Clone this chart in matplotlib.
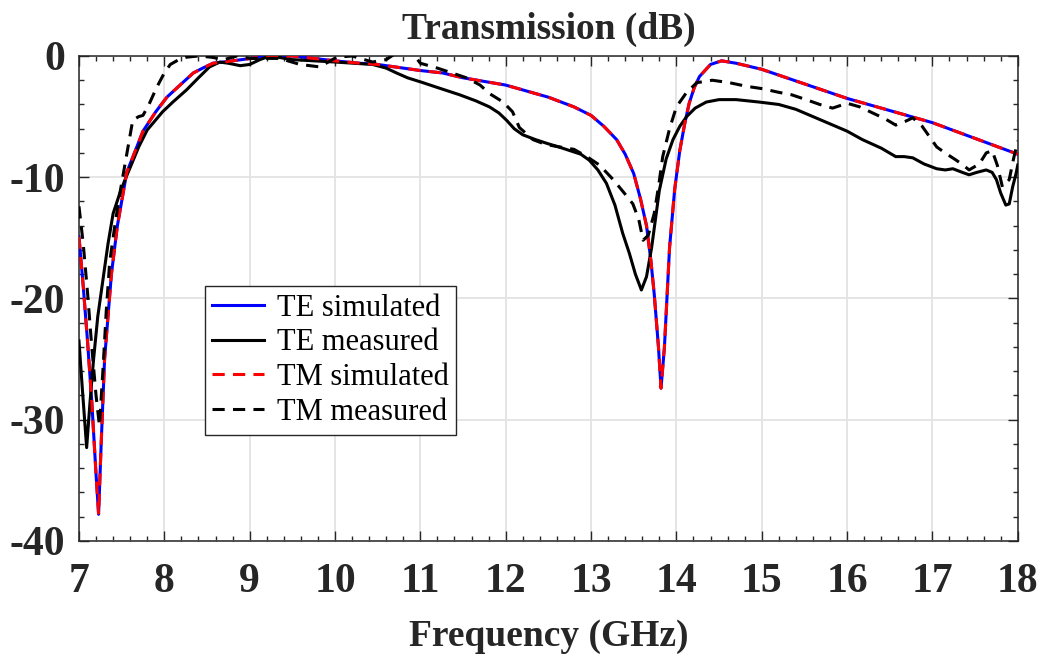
import matplotlib
matplotlib.use("Agg")
import matplotlib.pyplot as plt
from matplotlib.ticker import MultipleLocator

plt.rcParams['font.family'] = ['Liberation Serif', 'DejaVu Serif']
plt.rcParams['axes.unicode_minus'] = False

# Simulated transmission (identical for TE and TM)
f_sim = [7.0, 7.05, 7.1, 7.15, 7.2, 7.23, 7.26, 7.3, 7.38, 7.45, 7.56, 7.65, 7.75, 7.9,
         8.03, 8.2, 8.34, 8.45, 8.57, 8.8, 9.12, 9.5, 10.0, 10.29, 10.5, 11.0, 11.26,
         11.5, 12.0, 12.5, 12.8, 13.0, 13.15, 13.3, 13.4, 13.5, 13.58, 13.65, 13.7,
         13.74, 13.79, 13.82, 13.86, 13.92, 13.98, 14.04, 14.1, 14.15, 14.21, 14.27,
         14.4, 14.53, 14.7, 15.0, 15.5, 16.0, 16.5, 17.0, 17.5, 18.0]
te_sim = [-14.9, -19.0, -23.5, -28.5, -34.5, -37.8, -32.0, -25.0, -18.0, -14.0, -9.6,
          -8.0, -6.2, -4.6, -3.4, -2.3, -1.4, -1.0, -0.6, -0.4, -0.1, 0.0, -0.4, -0.6,
          -0.7, -1.2, -1.4, -1.8, -2.4, -3.4, -4.2, -4.9, -5.8, -6.9, -8.1, -9.7,
          -11.8, -14.0, -16.8, -19.6, -24.0, -27.4, -24.0, -15.8, -11.0, -7.8, -5.5,
          -3.9, -2.6, -1.7, -0.7, -0.4, -0.6, -1.1, -2.3, -3.5, -4.5, -5.5, -6.8, -8.1]
tm_sim = list(te_sim)

# Measured TE transmission
f_te_meas = [7.0, 7.04, 7.09, 7.13, 7.17, 7.22, 7.28, 7.34, 7.4, 7.47, 7.54, 7.6, 7.7,
             7.8, 7.98, 8.1, 8.26, 8.4, 8.53, 8.65, 8.75, 8.89, 9.0, 9.12, 9.24, 9.5,
             10.0, 10.44, 10.6, 10.72, 10.85, 11.03, 11.2, 11.46, 11.65, 11.81, 11.92,
             12.01, 12.1, 12.2, 12.35, 12.48, 12.62, 12.75, 12.88, 12.98, 13.08, 13.18,
             13.28, 13.37, 13.45, 13.52, 13.59, 13.65, 13.71, 13.8, 13.88, 13.96, 14.04,
             14.12, 14.22, 14.35, 14.5, 14.7, 14.97, 15.2, 15.4, 15.6, 15.8, 16.0, 16.18,
             16.4, 16.57, 16.67, 16.77, 16.9, 17.05, 17.15, 17.24, 17.35, 17.43, 17.52,
             17.63, 17.7, 17.75, 17.8, 17.86, 17.9, 17.94, 17.98, 18.0]
te_meas = [-23.5, -27.5, -32.3, -28.5, -25.1, -21.5, -18.5, -15.5, -13.0, -11.5, -10.2,
           -9.2, -7.5, -6.1, -4.6, -3.8, -2.8, -1.8, -0.9, -0.5, -0.6, -0.8, -0.7, -0.3,
           0.0, -0.3, -0.5, -0.7, -1.0, -1.4, -1.8, -2.2, -2.6, -3.2, -3.7, -4.2, -4.7,
           -5.3, -6.0, -6.5, -6.9, -7.2, -7.5, -7.8, -8.1, -8.6, -9.4, -10.5, -12.3,
           -14.6, -16.3, -18.0, -19.3, -18.2, -15.8, -11.1, -8.5, -6.9, -5.8, -5.0,
           -4.3, -3.8, -3.6, -3.6, -3.8, -4.0, -4.4, -5.0, -5.6, -6.2, -6.9, -7.6,
           -8.3, -8.3, -8.4, -8.9, -9.3, -9.4, -9.3, -9.6, -9.8, -9.6, -9.4, -9.6,
           -10.2, -11.3, -12.3, -12.2, -10.8, -9.7, -9.0]

# Measured TM transmission
f_tm_meas = [7.0, 7.05, 7.1, 7.15, 7.2, 7.24, 7.28, 7.32, 7.36, 7.42, 7.48, 7.55, 7.63,
             7.7, 7.75, 7.82, 7.91, 8.0, 8.07, 8.17, 8.26, 8.4, 8.55, 8.7, 8.85, 9.0,
             9.2, 9.35, 9.59, 9.82, 10.02, 10.2, 10.44, 10.6, 10.75, 10.88, 11.0, 11.2,
             11.54, 11.7, 11.81, 11.97, 12.08, 12.16, 12.32, 12.47, 12.63, 12.8, 12.95,
             13.1, 13.26, 13.4, 13.49, 13.56, 13.61, 13.67, 13.74, 13.79, 13.84, 13.92,
             14.0, 14.12, 14.24, 14.42, 14.62, 14.82, 15.01, 15.2, 15.35, 15.52, 15.68,
             15.83, 16.0, 16.15, 16.3, 16.45, 16.57, 16.68, 16.77, 16.88, 16.96, 17.05,
             17.15, 17.28, 17.36, 17.43, 17.55, 17.63, 17.7, 17.76, 17.82, 17.9, 17.95,
             18.0]
tm_meas = [-12.4, -15.5, -19.5, -24.0, -28.0, -30.5, -26.0, -21.0, -17.0, -14.0, -11.3,
           -8.5, -5.3, -5.0, -4.9, -4.0, -2.6, -1.4, -0.7, -0.3, -0.1, 0.0, -0.1, -0.3,
           0.0, -0.2, -0.2, -0.2, -0.7, -0.9, -0.1, 0.0, -0.5, -0.3, 0.4, 0.5, -0.6,
           -1.0, -1.8, -2.4, -3.1, -3.8, -4.6, -5.9, -6.9, -7.3, -7.5, -7.7, -8.3, -9.0,
           -10.2, -11.4, -12.2, -13.5, -15.2, -14.8, -13.0, -10.8, -8.3, -6.0, -4.2,
           -3.0, -2.2, -2.0, -2.2, -2.5, -2.7, -3.0, -3.2, -3.6, -4.0, -4.3, -3.9, -4.2,
           -4.7, -5.2, -5.7, -5.4, -5.1, -5.8, -6.6, -7.5, -8.0, -8.6, -9.0, -9.4, -8.9,
           -8.0, -7.8, -9.0, -10.8, -10.2, -8.5, -7.0]

x_ticks = [7, 8, 9, 10, 11, 12, 13, 14, 15, 16, 17, 18]
y_ticks = [-40, -30, -20, -10, 0]

fig = plt.figure(figsize=(10.46, 6.57), dpi=100)
ax = fig.add_axes([0.0755, 0.1766, 0.8975, 0.7382])

lw = 2.2
ax.plot(f_sim, te_sim, color='#0000ff', lw=lw, label='TE simulated', zorder=3)
ax.plot(f_te_meas, te_meas, color='black', lw=lw, label='TE measured', zorder=3)
ax.plot(f_sim, tm_sim, color='#ff0000', lw=lw, dashes=(4, 2.7), label='TM simulated', zorder=4)
ax.plot(f_tm_meas, tm_meas, color='black', lw=lw, dashes=(4, 2.7), label='TM measured', zorder=4)

ax.set_xlim(7, 18)
ax.set_ylim(-40, 0)
ax.set_xticks(x_ticks)
ax.set_yticks(y_ticks)
ax.xaxis.set_minor_locator(MultipleLocator(0.2))
ax.yaxis.set_minor_locator(MultipleLocator(2))
ax.tick_params(which='both', direction='in', top=True, right=True, color='#262626', width=1.0)
ax.tick_params(which='major', length=7, labelsize=30, labelcolor='#262626')
ax.tick_params(axis='x', which='major', pad=15.5)
ax.tick_params(axis='y', which='major', pad=10)
ax.tick_params(which='minor', length=3.6)
for lab in ax.get_xticklabels() + ax.get_yticklabels():
    lab.set_fontweight('bold')
for s in ax.spines.values():
    s.set_linewidth(1.1)
    s.set_color('#262626')

ax.grid(True, which='major', color='#e3e3e3', lw=1.3, zorder=0)
ax.set_axisbelow(True)

ax.set_title('Transmission (dB)', fontsize=27, fontweight='bold', color='#262626', pad=12)
ax.set_xlabel('Frequency (GHz)', fontsize=27, fontweight='bold', color='#262626', labelpad=13)

leg = ax.legend(loc='upper left', bbox_to_anchor=(0.134, 0.526), fontsize=22,
                frameon=True, fancybox=False, edgecolor='#262626', framealpha=1,
                handlelength=1.7, handletextpad=0.4, labelspacing=0.19,
                borderpad=0.25, borderaxespad=0)
leg.get_frame().set_linewidth(1.0)

fig.savefig('out.png', dpi=100)
